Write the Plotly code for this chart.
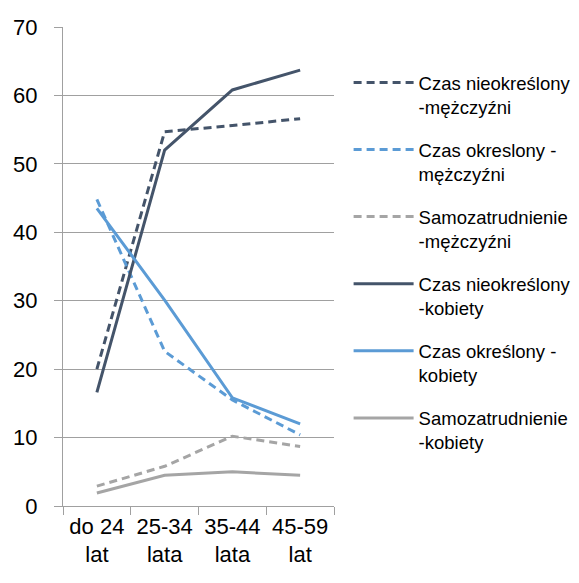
import plotly.graph_objects as go

categories = ["do 24<br>lat", "25-34<br>lata", "35-44<br>lata", "45-59<br>lat"]

nieokreslony_m = [20.0, 54.7, 55.6, 56.6]
okreslony_m = [44.8, 22.6, 15.5, 10.4]
samozatr_m = [2.9, 5.8, 10.2, 8.7]
nieokreslony_k = [16.6, 52.0, 60.8, 63.7]
okreslony_k = [43.5, 30.1, 15.8, 12.0]
samozatr_k = [1.9, 4.5, 5.0, 4.5]

series = [
    ("Czas nieokreślony<br>-mężczyźni", nieokreslony_m, "#44546A", "8px,5px"),
    ("Czas okreslony -<br>mężczyźni", okreslony_m, "#5B9BD5", "8px,5px"),
    ("Samozatrudnienie<br>-mężczyźni", samozatr_m, "#A5A5A5", "8px,5px"),
    ("Czas nieokreślony<br>-kobiety", nieokreslony_k, "#44546A", "solid"),
    ("Czas określony -<br>kobiety", okreslony_k, "#5B9BD5", "solid"),
    ("Samozatrudnienie<br>-kobiety", samozatr_k, "#A5A5A5", "solid"),
]

fig = go.Figure()
for i, (name, vals, color, dash) in enumerate(series):
    fig.add_trace(go.Scatter(
        x=categories, y=vals, name=name, mode="lines", legendgroup=f"g{i}",
        line=dict(color=color, width=3, dash=dash),
    ))

FONT = "Liberation Sans"
fig.update_layout(
    width=579, height=583,
    margin=dict(l=55, r=252, t=19, b=85),
    plot_bgcolor="white", paper_bgcolor="white",
    font=dict(family=FONT, size=22, color="#000000"),
    showlegend=True,
    legend=dict(
        x=1.05, y=0.923, xanchor="left", yanchor="top",
        font=dict(family=FONT, size=18.5, color="#000000"),
        tracegroupgap=16, valign="top", itemwidth=60,
        bgcolor="rgba(0,0,0,0)",
    ),
    xaxis=dict(
        type="category", range=[-0.5, 3.5], tickangle=0, automargin=False,
        showline=True, linecolor="#A0A0A0", linewidth=1.3,
        ticks="outside", tickson="boundaries", ticklen=8, tickcolor="#A0A0A0",
        showgrid=False, tickfont=dict(size=22),
    ),
    yaxis=dict(
        range=[0, 70], dtick=10, showline=True, linecolor="#A0A0A0", linewidth=1.3,
        ticks="outside", ticklen=8, tickcolor="#A0A0A0", automargin=False,
        ticklabelstandoff=12,
        showgrid=True, gridcolor="#A0A0A0", gridwidth=1.3, zeroline=False,
        tickfont=dict(size=22),
    ),
)

fig.write_html("out.html")
